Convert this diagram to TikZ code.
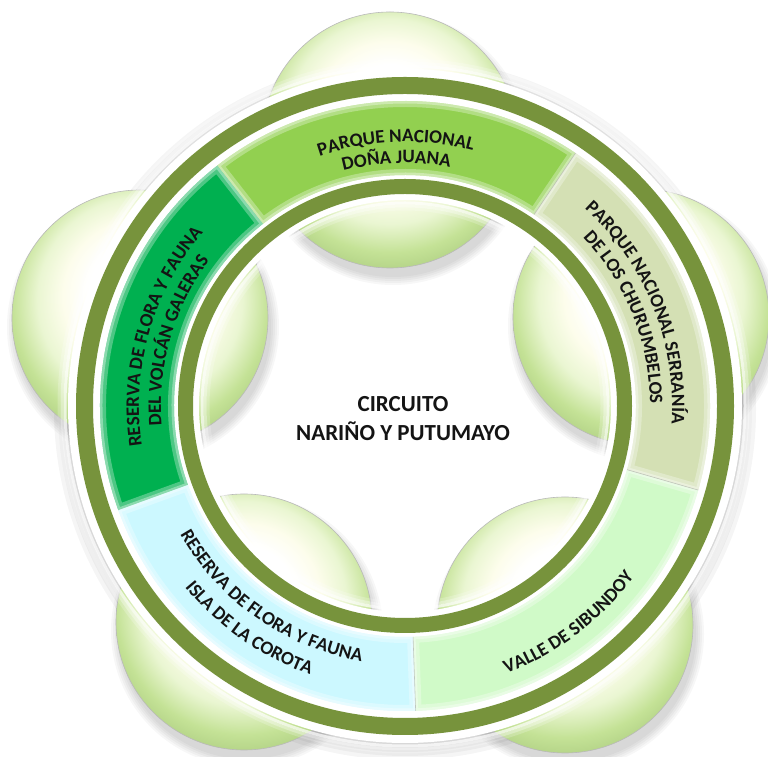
\documentclass[tikz,border=0pt]{standalone}
\usepackage{fontspec}
\setmainfont{Carlito}
\usetikzlibrary{decorations.text,calc}
\definecolor{ringgreen}{RGB}{119,147,60}
\definecolor{segA}{RGB}{146,208,80}
\definecolor{segB}{RGB}{0,176,80}
\definecolor{segC}{RGB}{204,248,255}
\definecolor{segD}{RGB}{208,250,200}
\definecolor{segE}{RGB}{212,224,180}
\definecolor{sphA}{RGB}{253,253,236}
\definecolor{sphB}{RGB}{234,246,210}
\definecolor{sphC}{RGB}{196,226,150}
\definecolor{sphD}{RGB}{165,198,122}
\definecolor{txt}{RGB}{20,20,20}
\pgfdeclareradialshading{sphereshade}{\pgfpoint{0bp}{6bp}}{color(0bp)=(white); color(10bp)=(white); color(15bp)=(sphA); color(20bp)=(sphB); color(25bp)=(sphC); color(31bp)=(sphD); color(50bp)=(sphD)}
\tikzset{
  ball/.style={circle, inner sep=0pt, minimum size=256pt, shading=sphereshade, draw=gray!55, line width=0.6pt},
  arctext/.style={decorate, decoration={text along path, text align=center, text color=txt,
     text format delimiters={|}{|}, text={|\bfseries\fontsize{19}{19}\selectfont|#1}}},
  title/.style={font=\bfseries\fontsize{23}{29}\selectfont, align=center, text=txt}
}
\begin{document}
\begin{tikzpicture}[x=1pt,y=1pt]
\useasboundingbox (0,0) rectangle (768,757);
\clip (0,0) rectangle (768,757);
\fill[white] (0,0) rectangle (768,757);
\coordinate (C) at (405,351);
\coordinate (sp1) at (390,617);
\coordinate (sp2) at (140,439);
\coordinate (sp3) at (641,440);
\coordinate (sp4) at (244,135);
\coordinate (sp5) at (565,132);
% ring shadow halo
\foreach \w in {34,26,18,10}{
  \draw[black, opacity=0.04, line width=\w pt] ($(C)+(0,-3)$) circle (334);
}
% sphere shadows
\foreach \s in {sp1,sp2,sp3,sp4,sp5}{
  \foreach \k in {1,...,5}{
    \fill[black, opacity=0.03] ($(\s)+(3,-9)$) circle ({126+2*\k});
  }
}
% spheres
\node[ball] (b1) at (sp1) {};
\node[ball] (b2) at (sp2) {};
\node[ball] (b3) at (sp3) {};
\node[ball] (b4) at (sp4) {};
\node[ball] (b5) at (sp5) {};
% white halo of the ring
\fill[white, even odd rule] (C) circle (337) (C) circle (206);
\foreach \rr/\op in {340/0.7,343/0.45,346/0.2}{\draw[white, opacity=\op, line width=3pt] (C) circle (\rr);}
\foreach \rr/\op in {203/0.7,200/0.45,197/0.2}{\draw[white, opacity=\op, line width=3pt] (C) circle (\rr);}
% band segments
\foreach \a/\col in {56/segA,128/segB,200/segC,272/segD,344/segE}{
  \pgfmathsetmacro\b{\a+72}
  \begin{scope}
    \path[clip] ($(C)+(\a:231)$) arc[start angle=\a, end angle=\b, radius=231] -- ($(C)+(\b:305)$) arc[start angle=\b, end angle=\a, radius=305] -- cycle;
    \fill[\col] (C) circle (310);
    \draw[white, opacity=0.3, line width=12pt] ($(C)+(\a:231)$) arc[start angle=\a, end angle=\b, radius=231] -- ($(C)+(\b:305)$) arc[start angle=\b, end angle=\a, radius=305] -- cycle;
    \draw[white, opacity=0.35, line width=5pt] ($(C)+(\a:231)$) arc[start angle=\a, end angle=\b, radius=231] -- ($(C)+(\b:305)$) arc[start angle=\b, end angle=\a, radius=305] -- cycle;
  \end{scope}
}
\foreach \a in {56,344,272}{
  \draw[gray!70, opacity=0.6, line width=0.6pt] ($(C)+(\a:231)$) -- ($(C)+(\a:305)$);
}
% rings
\draw[ringgreen, line width=17pt] (C) circle (320.5);
\draw[ringgreen, line width=15pt] (C) circle (219.5);
% labels on arcs
\path[arctext={PARQUE NACIONAL}] ($(C)+(132:264)$) arc[start angle=132, end angle=52, radius=264];
\path[arctext={DOÑA JUANA}] ($(C)+(132:243)$) arc[start angle=132, end angle=52, radius=243];
\path[arctext={RESERVA DE FLORA Y FAUNA}] ($(C)+(204:266)$) arc[start angle=204, end angle=124, radius=266];
\path[arctext={DEL VOLCÁN GALERAS}] ($(C)+(204:244)$) arc[start angle=204, end angle=124, radius=244];
\path[arctext={PARQUE NACIONAL SERRANÍA}] ($(C)+(62:267)$) arc[start angle=62, end angle=-18, radius=267];
\path[arctext={DE LOS CHURUMBELOS}] ($(C)+(62:245)$) arc[start angle=62, end angle=-18, radius=245];
\path[arctext={RESERVA DE FLORA Y FAUNA}] ($(C)+(195:259)$) arc[start angle=195, end angle=275, radius=259];
\path[arctext={ISLA DE LA COROTA}] ($(C)+(195:285)$) arc[start angle=195, end angle=275, radius=285];
\path[arctext={VALLE DE SIBUNDOY}] ($(C)+(267:286)$) arc[start angle=267, end angle=347, radius=286];
% centre title
\node[title] (centre) at (403,338) {CIRCUITO\\NARIÑO Y PUTUMAYO};
\end{tikzpicture}
\end{document}
